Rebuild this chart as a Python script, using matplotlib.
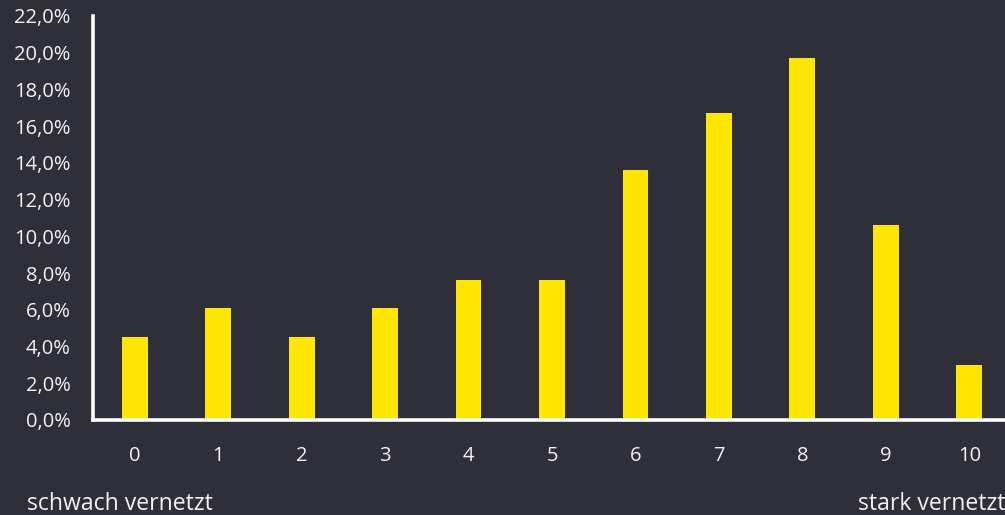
import matplotlib.pyplot as plt
from matplotlib.ticker import FuncFormatter

# Share of respondents per networking score (0 = weak, 10 = strong)
scores = [0, 1, 2, 3, 4, 5, 6, 7, 8, 9, 10]
shares = [4.5, 6.1, 4.5, 6.1, 7.6, 7.6, 13.6, 16.7, 19.7, 10.6, 3.0]
y_ticks = [0, 2, 4, 6, 8, 10, 12, 14, 16, 18, 20, 22]
label_low = "schwach vernetzt"
label_high = "stark vernetzt"

BG = "#2f2f3a"
BAR = "#ffe600"
TXT = "#f2f2f2"

plt.rcParams['font.family'] = ['Open Sans', 'DejaVu Sans']

fig = plt.figure(figsize=(10.05, 5.15), dpi=100, facecolor=BG)
# axes in pixel terms: left 93, right ~1011, bottom 420, top 16
W, H = 1005, 515
ax = fig.add_axes([93 / W, (H - 420) / H, (1011 - 93) / W, (420 - 16) / H])
ax.set_facecolor(BG)

ax.bar(scores, shares, width=0.31, color=BAR, zorder=2)

ax.set_xlim(-0.5, 10.5)
ax.set_ylim(0, 22)
ax.set_xticks(scores)
ax.set_yticks(y_ticks)
ax.yaxis.set_major_formatter(FuncFormatter(lambda v, _: f"{v:.1f}%".replace(".", ",")))

for side in ("top", "right"):
    ax.spines[side].set_visible(False)
for side in ("left", "bottom"):
    ax.spines[side].set_color("white")
    ax.spines[side].set_linewidth(2.6)

ax.tick_params(axis="x", length=0, pad=19, labelsize=14.5, labelcolor=TXT)
ax.tick_params(axis="y", length=0, pad=16, labelsize=14.5, labelcolor=TXT)

fig.text(27 / W, (H - 504) / H, label_low, color=TXT, fontsize=16.6,
         ha="left", va="center")
fig.text(1.0, (H - 504) / H, label_high, color=TXT, fontsize=16.6,
         ha="right", va="center")

fig.savefig("out.png", dpi=100, facecolor=BG)
